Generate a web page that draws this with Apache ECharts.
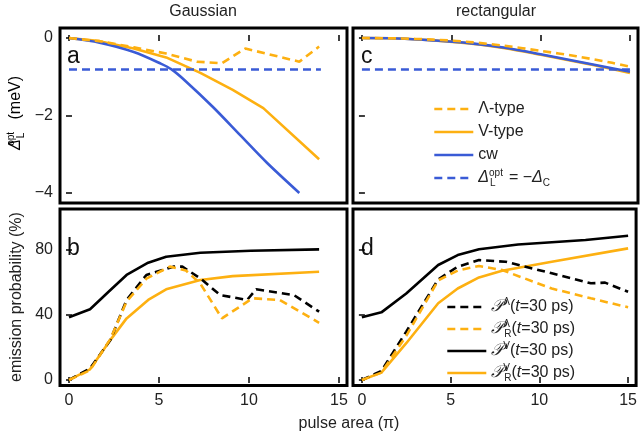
<!DOCTYPE html>
<html><head><meta charset="utf-8">
<script src="https://cdn.jsdelivr.net/npm/echarts@6/dist/echarts.min.js"></script>
<style>html,body{margin:0;padding:0;background:#fff}#c{width:640px;height:439px}</style>
</head><body><div id="c"></div>
<script>
// ---- data ----
const xTicks = [0, 5, 10, 15];
const yTicksDet = [-4, -2, 0];
const yTicksProb = [0, 40, 80];

// panel a: Gaussian, optimal detuning (meV)
const gCwX  = [0, 1.7, 3.6, 5.1, 5.7, 6.5, 8.0, 9.5, 11.0, 12.8];
const gCwY  = [0, -0.12, -0.36, -0.66, -0.81, -1.12, -1.78, -2.50, -3.22, -4.0];
const gVX   = [0, 1.7, 3.6, 5.4, 7.3, 9.1, 10.8, 13.9];
const gVY   = [0, -0.08, -0.27, -0.50, -0.90, -1.34, -1.81, -3.13];
const gLamX = [0, 1.7, 3.6, 5.4, 7.1, 8.5, 9.8, 12.8, 13.9];
const gLamY = [0, -0.08, -0.24, -0.40, -0.61, -0.65, -0.27, -0.61, -0.22];
const gDcX  = [0, 14];
const gDcY  = [-0.81, -0.81];

// panel c: rectangular, optimal detuning (meV)
const rDetX = [0, 2, 4, 6, 8, 10, 12, 14, 15];
const rCwY  = [0, -0.01, -0.06, -0.13, -0.25, -0.42, -0.60, -0.78, -0.87];
const rVY   = [0, -0.01, -0.06, -0.14, -0.26, -0.43, -0.61, -0.80, -0.90];
const rLamY = [0, -0.01, -0.04, -0.10, -0.20, -0.33, -0.47, -0.64, -0.74];
const rDcX  = [0, 15];
const rDcY  = [-0.81, -0.81];

// panel b: Gaussian, emission probability (%)
const gPVX   = [0, 1.17, 2.2, 3.2, 4.4, 5.4, 7.3, 10.1, 13.9];
const gPVY   = [38.4, 43.3, 54, 64.3, 71.8, 75.5, 77.9, 79.1, 80];
const gPRVX  = [0, 1.17, 2.2, 3.2, 4.4, 5.4, 7.3, 9.1, 13.9];
const gPRVY  = [0, 6.5, 23, 37.7, 49, 55.5, 61.2, 63.6, 66.3];
const gPLX   = [0, 1.17, 2.3, 3.2, 4.3, 5.8, 6.3, 7.3, 8.4, 9.9, 10.4, 12.5, 13.9];
const gPLY   = [0, 7, 24.5, 49, 64.3, 69.4, 69.4, 62.2, 52, 49, 55.5, 52, 41.8];
const gPRLX  = [0, 1.17, 2.3, 3.2, 4.3, 5.6, 6.5, 7.3, 8.5, 10.2, 11.7, 13.9];
const gPRLY  = [0, 6, 25, 48, 62, 69.4, 67, 59, 37.7, 50, 49, 35];

// panel d: rectangular, emission probability (%)
const rPVX   = [0, 1.1, 2.5, 4.3, 5.4, 6.6, 8.8, 12.6, 15];
const rPVY   = [38.4, 41.4, 53, 70.4, 76.5, 80, 83, 85.7, 88.3];
const rPRVX  = [0, 1.1, 2.5, 4.3, 5.4, 6.6, 7.9, 10.7, 15];
const rPRVY  = [0, 4.5, 22.5, 47, 56, 62.8, 66.9, 72.4, 80.6];
const rPLX   = [0, 1.1, 2.5, 4.3, 5.4, 6.6, 8.1, 10.7, 12.9, 13.7, 15];
const rPLY   = [0, 5.5, 29.6, 61.6, 69.4, 73.4, 72.4, 65.3, 59.2, 59.6, 54];
const rPRLX  = [0, 1.1, 2.5, 4.3, 5.4, 6.6, 7.9, 10.7, 12.9, 15];
const rPRLY  = [0, 4.5, 27, 61, 67, 69.8, 67.3, 56, 50, 44.5];

// ---- styling ----
const F = "'Liberation Sans', Arial, sans-serif";
const ORANGE = '#FDB011', BLUE = '#3A5BD6', BLACK = '#000';
const DASH = [8, 5];

const zip = (xs, ys) => xs.map((x, i) => [x, ys[i]]);

const grids = [
  {left: 60, top: 28, width: 287, height: 175},
  {left: 353, top: 28, width: 285, height: 175},
  {left: 60, top: 209, width: 287, height: 176.5},
  {left: 353, top: 209, width: 285, height: 176.5}
].map(g => Object.assign(g, {show: true, borderColor: '#000', borderWidth: 3, backgroundColor: 'transparent'}));

const XMIN = -0.5, XMAX = 15.45;
const yRanges = [[-4.26, 0.26], [-4.26, 0.26], [-3.4, 104.7], [-3.4, 104.7]];
const yTickSets = [yTicksDet, yTicksDet, yTicksProb, yTicksProb];

const tickStyle = {show: true, inside: true, length: 3, lineStyle: {color: '#000', width: 1.5}};
const xAxes = [], yAxes = [];
for (let i = 0; i < 4; i++) {
  const showX = i >= 2, showY = (i % 2) === 0;
  ['bottom', 'top'].forEach((pos, k) => {
    xAxes.push({type: 'value', gridIndex: i, position: pos, min: XMIN, max: XMAX,
      splitLine: {show: false}, axisLine: {show: false},
      axisTick: Object.assign({customValues: xTicks}, tickStyle),
      axisLabel: {show: showX && k === 0, customValues: xTicks, margin: 7, fontSize: 16, color: '#222', fontFamily: F}});
  });
  ['left', 'right'].forEach((pos, k) => {
    yAxes.push({type: 'value', gridIndex: i, position: pos, min: yRanges[i][0], max: yRanges[i][1],
      splitLine: {show: false}, axisLine: {show: false},
      axisTick: Object.assign({customValues: yTickSets[i]}, tickStyle),
      axisLabel: {show: showY && k === 0, customValues: yTickSets[i], margin: 7, fontSize: 16, color: '#222', fontFamily: F,
        formatter: v => String(v).replace('-', '\u2212')}});
  });
}

function line(name, xs, ys, gi, color, dashed, smooth) {
  return {type: 'line', name, xAxisIndex: gi * 2, yAxisIndex: gi * 2, data: zip(xs, ys),
    symbol: 'none', showSymbol: false, animation: false, silent: true, smooth: smooth || false,
    lineStyle: {color, width: 2.6, type: dashed ? DASH : 'solid'}, itemStyle: {color}};
}

const series = [
  line('V-type', gVX, gVY, 0, ORANGE, false),
  line('cw', gCwX, gCwY, 0, BLUE, false, 0.3),
  line('Λ-type', gLamX, gLamY, 0, ORANGE, true),
  line('dc', gDcX, gDcY, 0, BLUE, true),
  line('V-type', rDetX, rVY, 1, ORANGE, false, 0.3),
  line('cw', rDetX, rCwY, 1, BLUE, false, 0.3),
  line('Λ-type', rDetX, rLamY, 1, ORANGE, true, 0.3),
  line('dc', rDcX, rDcY, 1, BLUE, true),
  line('PV', gPVX, gPVY, 2, BLACK, false),
  line('PRV', gPRVX, gPRVY, 2, ORANGE, false),
  line('PL', gPLX, gPLY, 2, BLACK, true),
  line('PRL', gPRLX, gPRLY, 2, ORANGE, true),
  line('PV', rPVX, rPVY, 3, BLACK, false),
  line('PRV', rPRVX, rPRVY, 3, ORANGE, false),
  line('PL', rPLX, rPLY, 3, BLACK, true),
  line('PRL', rPRLX, rPRLY, 3, ORANGE, true)
];

const rich = {
  t: {fontSize: 16, fontFamily: F, color: '#222', lineHeight: 20},
  it: {fontSize: 16, fontFamily: F, fontStyle: 'italic', color: '#222', lineHeight: 20},
  p: {fontSize: 17, fontFamily: "'DejaVu Serif', serif", fontStyle: 'italic', color: '#222', lineHeight: 20},
  sup: {fontSize: 10, fontFamily: F, color: '#222', verticalAlign: 'top', lineHeight: 20},
  supz: {fontSize: 10, fontFamily: F, color: '#222', verticalAlign: 'top', lineHeight: 20, width: 1},
  sub: {fontSize: 10, fontFamily: F, color: '#222', verticalAlign: 'bottom', lineHeight: 20}
};
const labels = {
  'Λ-type': '{t|Λ-type}',
  'V-type': '{t|V-type}',
  'cw': '{t|cw}',
  'dc': '{it|Δ}{supz|opt}{sub|L}{t|   = \u2212}{it|Δ}{sub|C}',
  'PL': '{p|𝒫}{sup|Λ}{t|(}{it|t}{t|=30 ps)}',
  'PRL': '{p|𝒫}{supz|Λ}{sub|R}{t|(}{it|t}{t|=30 ps)}',
  'PV': '{p|𝒫}{sup|V}{t|(}{it|t}{t|=30 ps)}',
  'PRV': '{p|𝒫}{supz|V}{sub|R}{t|(}{it|t}{t|=30 ps)}'
};
const legendBase = {orient: 'vertical', itemWidth: 39, itemHeight: 12, selectedMode: false,
  itemStyle: {opacity: 0, borderWidth: 0}, lineStyle: {width: 2.6},
  formatter: n => labels[n], textStyle: {rich, fontSize: 16, lineHeight: 20}, padding: 0, itemGap: 3};

const option = {
  animation: false,
  grid: grids,
  xAxis: xAxes,
  yAxis: yAxes,
  series,
  legend: [
    Object.assign({}, legendBase, {data: ['Λ-type', 'V-type', 'cw', 'dc'], left: 433, top: 99, itemGap: 3}),
    Object.assign({}, legendBase, {data: ['PL', 'PRL', 'PV', 'PRV'], left: 446, top: 297, itemGap: 2})
  ],
  graphic: [
    {type: 'text', x: 203, y: 12, style: {text: 'Gaussian', font: '16px ' + F, fill: '#222', align: 'center', verticalAlign: 'middle'}},
    {type: 'text', x: 496, y: 12, style: {text: 'rectangular', font: '16px ' + F, fill: '#222', align: 'center', verticalAlign: 'middle'}},
    {type: 'text', x: 349, y: 424, style: {text: 'pulse area (π)', font: '16px ' + F, fill: '#222', align: 'center', verticalAlign: 'middle'}},
    {type: 'text', x: 67, y: 57, style: {text: 'a', font: '23px ' + F, fill: '#111', align: 'left', verticalAlign: 'middle'}},
    {type: 'text', x: 361, y: 57, style: {text: 'c', font: '23px ' + F, fill: '#111', align: 'left', verticalAlign: 'middle'}},
    {type: 'text', x: 67, y: 249, style: {text: 'b', font: '23px ' + F, fill: '#111', align: 'left', verticalAlign: 'middle'}},
    {type: 'text', x: 361, y: 249, style: {text: 'd', font: '23px ' + F, fill: '#111', align: 'left', verticalAlign: 'middle'}},
    {type: 'text', x: 17, y: 297, rotation: Math.PI / 2,
      style: {text: 'emission probability (%)', font: '16px ' + F, fill: '#222', align: 'center', verticalAlign: 'middle'}},
    {type: 'text', x: 16, y: 113, rotation: Math.PI / 2,
      style: {text: '{it|Δ}{supz|opt}{sub|L}{t|   (meV)}', rich, align: 'center', verticalAlign: 'middle'}}
  ]
};
echarts.init(document.getElementById('c'), null, {renderer: 'canvas'}).setOption(option);
</script></body></html>
